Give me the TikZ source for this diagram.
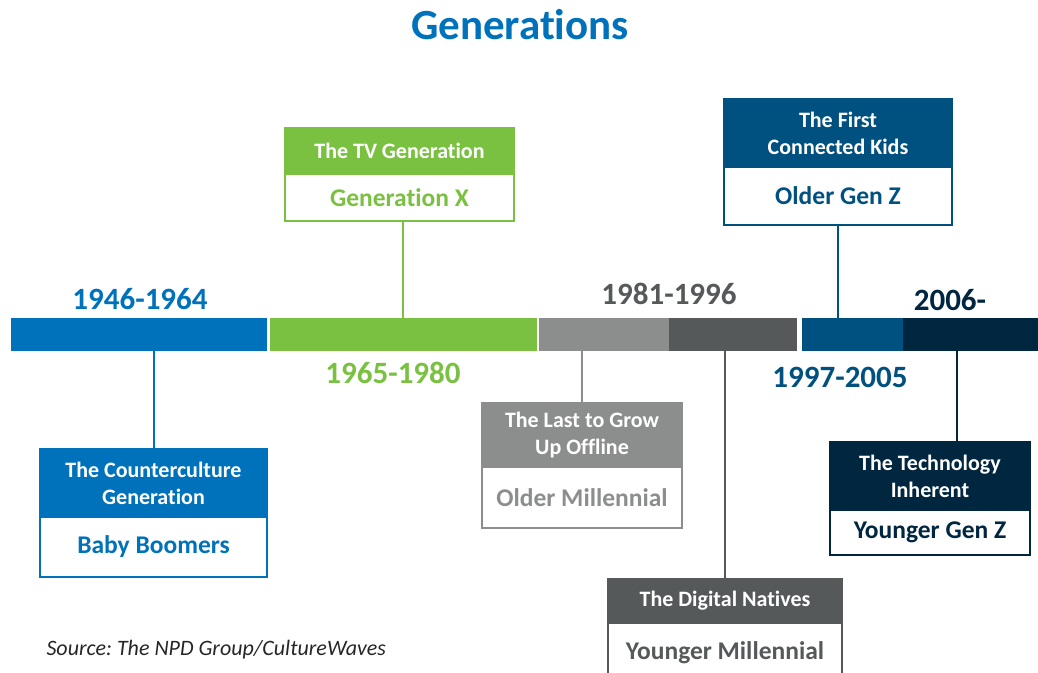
\documentclass[tikz,border=0pt]{standalone}
\usepackage{fontspec}
\setmainfont[Ligatures=TeX,RawFeature={-liga;-clig;-dlig}]{Carlito}
\usetikzlibrary{positioning}

\definecolor{cBoom}{RGB}{0,114,188}
\definecolor{cGenX}{RGB}{122,193,66}
\definecolor{cOldMil}{RGB}{140,142,142}
\definecolor{cYngMil}{RGB}{85,89,90}
\definecolor{cOldZ}{RGB}{0,80,128}
\definecolor{cYngZ}{RGB}{0,38,64}

\begin{document}
\frenchspacing
\begin{tikzpicture}[x=1pt,y=-1pt,
  seg/.style={rectangle,inner sep=0pt,outer sep=0pt,minimum height=33pt},
  head/.style={rectangle,draw=#1,fill=#1,line width=1.2pt,inner sep=0pt,outer sep=0pt,
    text=white,align=center,font=\bfseries\fontsize{22}{27}\selectfont},
  low/.style={rectangle,draw=#1,fill=white,line width=1.2pt,inner sep=0pt,outer sep=0pt,
    text=#1,font=\bfseries\fontsize{25.5}{28}\selectfont},
  year/.style={font=\bfseries\fontsize{31}{34}\selectfont},
  link/.style={line width=2pt}]

   \useasboundingbox (0,0) rectangle (1038,672);

   %titulo
   \node[font=\bfseries\fontsize{43}{46}\selectfont,text=cBoom] (title) at (520,25) {Generations};

   %barra
   \node[seg,fill=cBoom,minimum width=256pt] (s1) at (139,334.5) {};
   \node[seg,fill=cGenX,minimum width=267pt] (s2) at (403.5,334.5) {};
   \node[seg,fill=cOldMil,minimum width=130pt] (s3) at (604,334.5) {};
   \node[seg,fill=cYngMil,minimum width=128pt] (s4) at (733,334.5) {};
   \node[seg,fill=cOldZ,minimum width=101pt] (s5) at (852.5,334.5) {};
   \node[seg,fill=cYngZ,minimum width=135pt] (s6) at (970.5,334.5) {};

   %fechas
   \node[year,text=cBoom] (y1) at (140,299) {1946-1964};
   \node[year,text=cGenX] (y2) at (393,373) {1965-1980};
   \node[year,text=cYngMil] (y3) at (669,294) {1981-1996};
   \node[year,text=cOldZ] (y4) at (840,377) {1997-2005};
   \node[year,text=cYngZ] (y5) at (950,300) {2006-};

   %cajas
   \node[head=cBoom,minimum width=227pt,minimum height=68pt] (hbb) at (153.5,483) {The Counterculture\\Generation};
   \node[low=cBoom,minimum width=227pt,minimum height=60pt,below=0pt of hbb] (bb) {Baby Boomers};

   \node[head=cGenX,minimum width=229pt,minimum height=46pt] (hgx) at (399.5,151) {The TV Generation};
   \node[low=cGenX,minimum width=229pt,minimum height=47pt,below=0pt of hgx] (gx) {Generation X};

   \node[head=cOldMil,minimum width=200pt,minimum height=64pt] (hom) at (582,435) {The Last to Grow\\Up Offline};
   \node[low=cOldMil,minimum width=200pt,minimum height=61pt,below=0pt of hom] (om) {Older Millennial};

   \node[head=cYngMil,minimum width=234pt,minimum height=44pt] (hym) at (725,601) {The Digital Natives};
   \node[low=cYngMil,minimum width=234pt,minimum height=60pt,below=0pt of hym] (ym) {Younger Millennial};

   \node[head=cOldZ,minimum width=228pt,minimum height=68pt] (hoz) at (838,133) {The First\\Connected Kids};
   \node[low=cOldZ,minimum width=228pt,minimum height=58pt,below=0pt of hoz] (oz) {Older Gen Z};

   \node[head=cYngZ,minimum width=200pt,minimum height=68pt] (hyz) at (930,476) {The Technology\\Inherent};
   \node[low=cYngZ,minimum width=200pt,minimum height=45pt,below=0pt of hyz] (yz) {Younger Gen Z};

   %lineas
   \draw[link,cBoom] (hbb.north |- s1.south) -- (hbb.north);
   \draw[link,cGenX] ([xshift=3pt]gx.south) -- ([xshift=3pt]gx.south |- s2.north);
   \draw[link,cOldMil] (hom.north |- s3.south) -- (hom.north);
   \draw[link,cYngMil] (hym.north |- s4.south) -- (hym.north);
   \draw[link,cOldZ] (oz.south) -- (oz.south |- s5.north);
   \draw[link,cYngZ] ([xshift=27pt]hyz.north |- s6.south) -- ([xshift=27pt]hyz.north);

   %fuente
   \node[anchor=west,font=\itshape\fontsize{22}{24}\selectfont,text=black!85] (src) at (43,650) {Source: The NPD Group/CultureWaves};
\end{tikzpicture}
\end{document}
